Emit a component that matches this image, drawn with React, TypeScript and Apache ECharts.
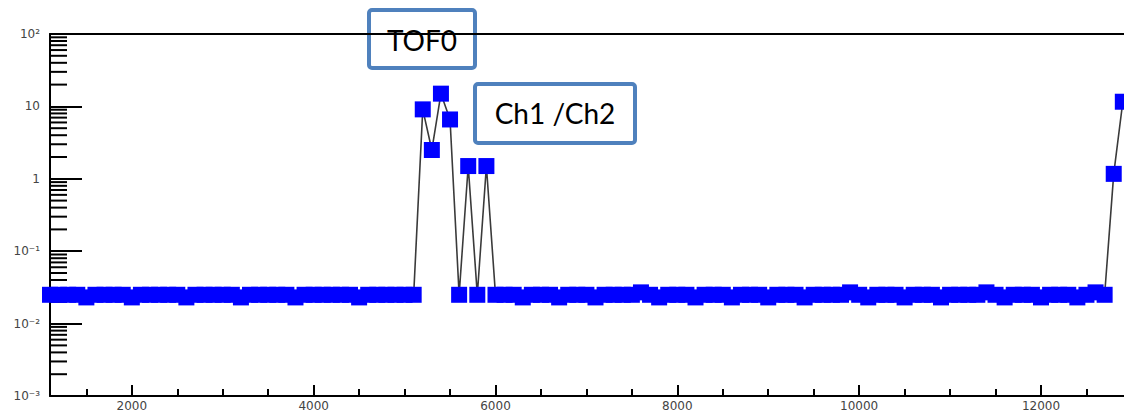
import React, { useEffect, useRef } from "react";
import * as echarts from "echarts";

// ---- data ----
const xValues = [
  1100, 1200, 1300, 1400, 1500, 1600, 1700, 1800, 1900, 2000,
  2100, 2200, 2300, 2400, 2500, 2600, 2700, 2800, 2900, 3000,
  3100, 3200, 3300, 3400, 3500, 3600, 3700, 3800, 3900, 4000,
  4100, 4200, 4300, 4400, 4500, 4600, 4700, 4800, 4900, 5000,
  5100, 5200, 5300, 5400, 5500, 5600, 5700, 5800, 5900, 6000,
  6100, 6200, 6300, 6400, 6500, 6600, 6700, 6800, 6900, 7000,
  7100, 7200, 7300, 7400, 7500, 7600, 7700, 7800, 7900, 8000,
  8100, 8200, 8300, 8400, 8500, 8600, 8700, 8800, 8900, 9000,
  9100, 9200, 9300, 9400, 9500, 9600, 9700, 9800, 9900, 10000,
  10100, 10200, 10300, 10400, 10500, 10600, 10700, 10800, 10900, 11000,
  11100, 11200, 11300, 11400, 11500, 11600, 11700, 11800, 11900, 12000,
  12100, 12200, 12300, 12400, 12500, 12600, 12700, 12800, 12900,
];

const yValues = [
  0.025, 0.025, 0.025, 0.025, 0.023, 0.025, 0.025, 0.025, 0.025, 0.023,
  0.025, 0.025, 0.025, 0.025, 0.025, 0.023, 0.025, 0.025, 0.025, 0.025,
  0.025, 0.023, 0.025, 0.025, 0.025, 0.025, 0.025, 0.023, 0.025, 0.025,
  0.025, 0.025, 0.025, 0.025, 0.023, 0.025, 0.025, 0.025, 0.025, 0.025,
  0.025, 9.1, 2.5, 15, 6.6, 0.025, 1.5, 0.025, 1.5, 0.025,
  0.025, 0.025, 0.023, 0.025, 0.025, 0.025, 0.023, 0.025, 0.025, 0.025,
  0.023, 0.025, 0.025, 0.025, 0.025, 0.027, 0.025, 0.023, 0.025, 0.025,
  0.025, 0.023, 0.025, 0.025, 0.025, 0.023, 0.025, 0.025, 0.025, 0.023,
  0.025, 0.025, 0.025, 0.023, 0.025, 0.025, 0.025, 0.025, 0.027, 0.025,
  0.023, 0.025, 0.025, 0.025, 0.023, 0.025, 0.025, 0.025, 0.023, 0.025,
  0.025, 0.025, 0.025, 0.027, 0.025, 0.023, 0.025, 0.025, 0.025, 0.023,
  0.025, 0.025, 0.025, 0.023, 0.025, 0.027, 0.025, 1.17, 11.6,
];

const xMin = 1100;
const xMax = 12913;
const xMajorTicks = [2000, 4000, 6000, 8000, 10000, 12000];
const xMinorTicks = [
  1500, 2500, 3000, 3500, 4500, 5000, 5500, 6500, 7000, 7500, 8500, 9000,
  9500, 10500, 11000, 11500, 12500,
];

const yMin = 0.001;
const yMax = 100;
const yTickPowers = [-3, -2, -1, 0, 1, 2];
const yTickLabels = ["10\u207B\u00B3", "10\u207B\u00B2", "10\u207B\u00B9", "1", "10", "10\u00B2"];
const yMinorTicks = [
  0.002, 0.003, 0.004, 0.005, 0.006, 0.007, 0.008, 0.009,
  0.02, 0.03, 0.04, 0.05, 0.06, 0.07, 0.08, 0.09,
  0.2, 0.3, 0.4, 0.5, 0.6, 0.7, 0.8, 0.9,
  2, 3, 4, 5, 6, 7, 8, 9,
  20, 30, 40, 50, 60, 70, 80, 90,
];

const annotations = ["TOF0", "Ch1 /Ch2"];

export default function App() {
  const ref = useRef<HTMLDivElement>(null);

  useEffect(() => {
    if (!ref.current) return;
    const chart = echarts.init(ref.current, undefined, { renderer: "svg" });

    const labelFont = { fontFamily: "DejaVu Sans", fontSize: 12, color: "#444" };
    const boxStroke = "#4f81bd";
    const boxFont = "28px Lato";

    chart.setOption({
      animation: false,
      backgroundColor: "#ffffff",
      grid: { left: 50, right: 0, top: 34, bottom: 18, containLabel: false },
      xAxis: [
        {
          type: "value",
          min: xMin,
          max: xMax,
          position: "bottom",
          axisLine: { show: true, onZero: false, lineStyle: { color: "#000", width: 2 } },
          axisTick: {
            show: true,
            inside: true,
            length: 11,
            customValues: xMajorTicks,
            lineStyle: { color: "#000", width: 2 },
          },
          axisLabel: {
            show: true,
            customValues: xMajorTicks,
            margin: 4,
            ...labelFont,
            formatter: (v: number) => String(Math.round(v)),
          },
          splitLine: { show: false },
        },
        {
          type: "value",
          min: xMin,
          max: xMax,
          position: "bottom",
          axisLine: { show: false },
          axisTick: {
            show: true,
            inside: true,
            length: 7,
            customValues: xMinorTicks,
            lineStyle: { color: "#000", width: 2 },
          },
          axisLabel: { show: false },
          splitLine: { show: false },
        },
        {
          type: "value",
          min: xMin,
          max: xMax,
          position: "top",
          axisLine: { show: true, onZero: false, lineStyle: { color: "#000", width: 2 } },
          axisTick: { show: false },
          axisLabel: { show: false },
          splitLine: { show: false },
        },
      ],
      yAxis: [
        {
          type: "log",
          logBase: 10,
          min: yMin,
          max: yMax,
          position: "left",
          axisLine: { show: true, onZero: false, lineStyle: { color: "#000", width: 2 } },
          axisTick: { show: true, inside: true, length: 32, lineStyle: { color: "#000", width: 2 } },
          axisLabel: {
            show: true,
            margin: 10,
            ...labelFont,
            formatter: (v: number) => {
              const p = Math.round(Math.log10(v));
              const i = yTickPowers.indexOf(p);
              return i >= 0 ? yTickLabels[i] : "";
            },
          },
          splitLine: { show: false },
          minorTick: { show: false },
        },
      ],
      graphic: [
        {
          type: "group",
          z: 100,
          children: [
            {
              type: "rect",
              shape: { x: 369, y: 10, width: 106, height: 58, r: 3 },
              style: { fill: "#fff", stroke: boxStroke, lineWidth: 4 },
            },
            {
              type: "text",
              x: 422,
              y: 40,
              style: {
                text: annotations[0],
                font: boxFont,
                fill: "#000",
                align: "center",
                verticalAlign: "middle",
              },
            },
            {
              type: "rect",
              shape: { x: 475, y: 84, width: 160, height: 59, r: 3 },
              style: { fill: "#fff", stroke: boxStroke, lineWidth: 4 },
            },
            {
              type: "text",
              x: 555,
              y: 113,
              style: {
                text: annotations[1],
                font: boxFont,
                fill: "#000",
                align: "center",
                verticalAlign: "middle",
              },
            },
          ],
        },
      ],
      series: [
        {
          type: "custom",
          xAxisIndex: 0,
          yAxisIndex: 0,
          z: 1,
          silent: true,
          clip: false,
          data: yMinorTicks.map((v) => [xMin, v]),
          renderItem: (params: any, api: any) => {
            const p = api.coord([api.value(0), api.value(1)]);
            return {
              type: "line",
              shape: { x1: p[0], y1: p[1], x2: p[0] + 17, y2: p[1] },
              style: { stroke: "#000", lineWidth: 2 },
            };
          },
        },
        {
          type: "line",
          xAxisIndex: 0,
          yAxisIndex: 0,
          z: 3,
          data: xValues.map((x, i) => [x, yValues[i]]),
          symbol: "rect",
          symbolSize: 16,
          showSymbol: true,
          showAllSymbol: true,
          itemStyle: { color: "#0000ff" },
          lineStyle: { color: "#3a3a3a", width: 1.6 },
          emphasis: { disabled: true },
        },
      ],
    });

    return () => chart.dispose();
  }, []);

  return (
    <div
      ref={ref}
      style={{ position: "fixed", left: 0, top: 0, width: 1124, height: 414, background: "#fff" }}
    />
  );
}
